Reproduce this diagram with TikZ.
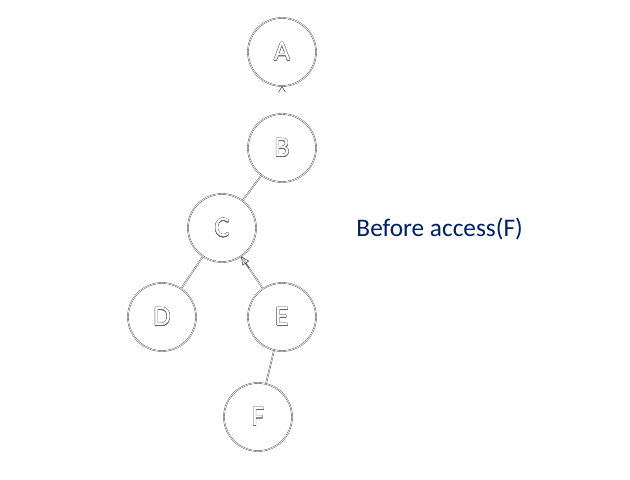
\documentclass[tikz,border=0pt]{standalone}
\usepackage{fontspec}
\setmainfont{Carlito}
\usepackage{contour}
\contourlength{0.3pt}
\contournumber{16}
\usetikzlibrary{arrows.meta,calc}
\definecolor{navy}{HTML}{002060}
\tikzset{
  vertex/.style={circle, draw=black!85, double=white, double distance=1pt, line width=0.45pt,
    minimum size=3.4cm, inner sep=0pt, font=\fontsize{40}{40}\selectfont},
  link/.style={draw=black!85, double=white, double distance=1pt, line width=0.45pt},
}
\newcommand{\hollow}[1]{\contour{black!60}{\textcolor{white}{#1}}}
\begin{document}
\begin{tikzpicture}[x=0.05cm,y=-0.05cm]
            \useasboundingbox[fill=white] (0,0) rectangle (630,480);
            \node[vertex] (a) at (282, 52) {\hollow{A}};
            \node[vertex] (b) at (282, 148) {\hollow{B}};
            \node[vertex] (c) at (222, 228) {\hollow{C}};
            \node[vertex] (d) at (162, 317) {\hollow{D}};
            \node[vertex] (e) at (282, 317) {\hollow{E}};
            \node[vertex] (f) at (258, 417) {\hollow{F}};
            \draw[white, -{Straight Barb[black!80, length=8pt, width=10pt, line width=0.7pt]}] (b) -- (a);
            \draw[link] (b) -- (c);
            \draw[link] (c) -- (d);
            \draw[link] (e) -- (c);
            \draw[black!80, line width=0.7pt, -{Triangle[open, length=12pt, width=11pt]}] ($(c)!0.45!(e)$) -- (c);
            \draw[link] (e) -- (f);
            \node[anchor=west, text=navy, font=\fontsize{36}{36}\selectfont] (cap) at (354, 229) {Before access(F)};
\end{tikzpicture}
\end{document}
